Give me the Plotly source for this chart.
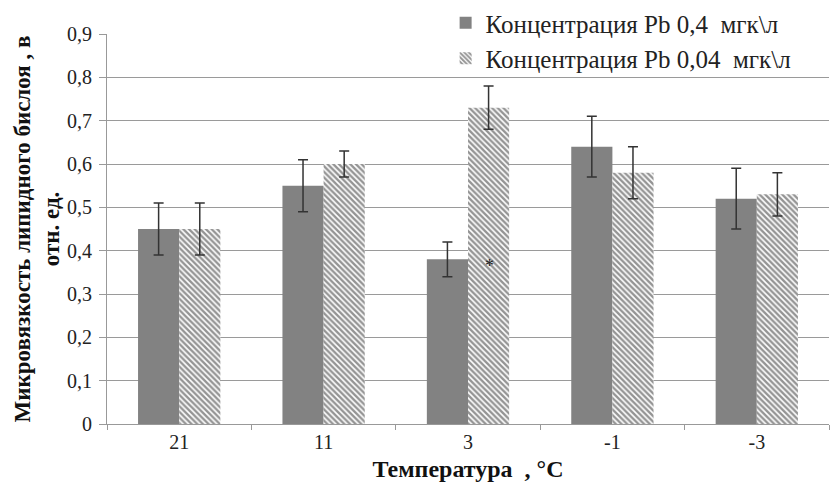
import plotly.graph_objects as go

# Temperature categories (°C)
temperatures = ["21", "11", "3", "-1", "-3"]

# Lipid bilayer microviscosity, rel. units
pb_04 = [0.45, 0.55, 0.38, 0.64, 0.52]
pb_04_err = [0.06, 0.06, 0.04, 0.07, 0.07]
pb_004 = [0.45, 0.60, 0.73, 0.58, 0.53]
pb_004_err = [0.06, 0.03, 0.05, 0.06, 0.05]

y_ticks = [0, 0.1, 0.2, 0.3, 0.4, 0.5, 0.6, 0.7, 0.8, 0.9]
y_tick_text = ["0", "0,1", "0,2", "0,3", "0,4", "0,5", "0,6", "0,7", "0,8", "0,9"]

serif = "'Times New Roman', 'Liberation Serif', 'DejaVu Serif', serif"

fig = go.Figure()
fig.add_trace(go.Bar(
    x=temperatures, y=pb_04, name="Концентрация Pb 0,4  мгк\\л",
    legendgroup="a",
    marker=dict(color="#828282", line=dict(width=0)),
    error_y=dict(type="data", array=pb_04_err, color="#333333", thickness=1.5, width=5),
))
fig.add_trace(go.Bar(
    x=temperatures, y=pb_004, name="Концентрация Pb 0,04  мгк\\л",
    legendgroup="b",
    marker=dict(color="white", line=dict(width=0),
                pattern=dict(shape="\\", fgcolor="#2a2a2a", bgcolor="white",
                             size=4, solidity=0.6)),
    error_y=dict(type="data", array=pb_004_err, color="#333333", thickness=1.5, width=5),
))

# significance mark on the 3 °C, 0,04 mg/l bar
fig.add_annotation(x=temperatures.index("3"), y=0.365, text="*", showarrow=False, xshift=21,
                   font=dict(family=serif, size=18, color="#222"))

fig.update_layout(
    width=830, height=490,
    margin=dict(l=107, r=1, t=34, b=66, autoexpand=False),
    paper_bgcolor="white", plot_bgcolor="white",
    barmode="group", bargap=0.43, bargroupgap=0,
    font=dict(family=serif, color="#222"),
    showlegend=True,
    legend=dict(x=0.469, y=1.0, xanchor="left", yanchor="top", yref="container",
                bgcolor="rgba(0,0,0,0)", font=dict(family=serif, size=25, color="#222"),
                traceorder="grouped", tracegroupgap=0, itemwidth=30),
    xaxis=dict(
        type="category", showgrid=False, showline=True, linecolor="#999", linewidth=1,
        ticks="outside", tickson="boundaries", ticklen=5, tickcolor="#999",
        tickfont=dict(family=serif, size=20, color="#222"),
        title=dict(text="<b>Температура  , °С</b>", font=dict(family=serif, size=24, color="#111"),
                   standoff=8),
    ),
    yaxis=dict(
        range=[0, 0.9], tickvals=y_ticks, ticktext=y_tick_text,
        showgrid=True, gridcolor="#9a9a9a", gridwidth=1,
        showline=True, linecolor="#999", linewidth=1,
        ticks="outside", ticklen=7, tickcolor="#999", ticklabelstandoff=3,
        tickfont=dict(family=serif, size=20, color="#222"),
        zeroline=False,
        title=dict(text="<b>Микровязкость липидного бислоя , в<br>отн. ед.</b>",
                   font=dict(family=serif, size=23, color="#111"), standoff=0),
    ),
)

fig.write_html("out.html")
